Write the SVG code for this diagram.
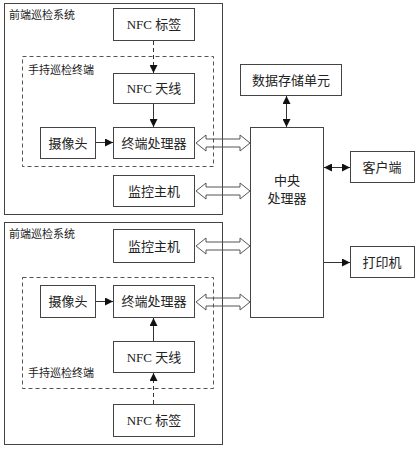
<svg xmlns="http://www.w3.org/2000/svg" width="419" height="450" viewBox="0 0 419 450">
<style>
.box{fill:#fff;stroke:#444;stroke-width:1}
.frame{fill:none;stroke:#444;stroke-width:1}
.dash{fill:none;stroke:#555;stroke-width:1;stroke-dasharray:4 3}
.t{font-family:"Liberation Serif","Noto Sans CJK SC",serif;font-size:13px;fill:#222;text-anchor:middle;dominant-baseline:central}
.lbl{font-family:"Noto Sans CJK SC",sans-serif;font-size:11px;fill:#222;dominant-baseline:central}
.ln{fill:none;stroke:#333;stroke-width:1}
.ld{fill:none;stroke:#333;stroke-width:1;stroke-dasharray:4 3}
.blk{fill:none;stroke:#555;stroke-width:1}
</style>
<defs>
<marker id="ah" viewBox="0 0 10 10" refX="10" refY="5" markerWidth="8" markerHeight="8" markerUnits="userSpaceOnUse" orient="auto-start-reverse">
<path d="M0,0 L10,5 L0,10 Z" fill="#111"/>
</marker>
</defs>

<g id="frontend1">
<rect class="frame" x="4.5" y="3.5" width="218" height="211"/>
<text class="lbl" x="9" y="14">前端巡检系统</text>
</g>
<g id="handheld1">
<rect class="dash" x="22.5" y="56.5" width="191" height="110"/>
<text class="lbl" x="28" y="69">手持巡检终端</text>
</g>
<g id="nfc-tag1"><rect class="box" x="113.5" y="8.5" width="81" height="32"/><text class="t" x="154" y="24.5">NFC 标签</text></g>
<g id="nfc-ant1"><rect class="box" x="113.5" y="73.5" width="81" height="30"/><text class="t" x="154" y="88.5">NFC 天线</text></g>
<g id="camera1"><rect class="box" x="40.5" y="127.5" width="55" height="31"/><text class="t" x="68" y="143">摄像头</text></g>
<g id="term1"><rect class="box" x="113.5" y="127.5" width="81" height="31"/><text class="t" x="154" y="143">终端处理器</text></g>
<g id="monitor1"><rect class="box" x="113.5" y="175.5" width="81" height="31"/><text class="t" x="154" y="191">监控主机</text></g>

<g id="frontend2">
<rect class="frame" x="4.5" y="222.5" width="218" height="222"/>
<text class="lbl" x="9" y="233">前端巡检系统</text>
</g>
<g id="handheld2">
<rect class="dash" x="22.5" y="277.5" width="191" height="111"/>
<text class="lbl" x="28" y="372">手持巡检终端</text>
</g>
<g id="monitor2"><rect class="box" x="113.5" y="229.5" width="81" height="33"/><text class="t" x="154" y="246">监控主机</text></g>
<g id="camera2"><rect class="box" x="40.5" y="285.5" width="55" height="32"/><text class="t" x="68" y="301.5">摄像头</text></g>
<g id="term2"><rect class="box" x="113.5" y="285.5" width="81" height="32"/><text class="t" x="154" y="301.5">终端处理器</text></g>
<g id="nfc-ant2"><rect class="box" x="113.5" y="341.5" width="81" height="31"/><text class="t" x="154" y="357">NFC 天线</text></g>
<g id="nfc-tag2"><rect class="box" x="113.5" y="404.5" width="81" height="32"/><text class="t" x="154" y="420.5">NFC 标签</text></g>

<g id="storage"><rect class="box" x="240.5" y="64.5" width="101" height="31"/><text class="t" x="291" y="80">数据存储单元</text></g>
<g id="cpu"><rect class="box" x="250.5" y="127.5" width="73" height="190"/><text class="t" x="287" y="180">中央</text><text class="t" x="287" y="198">处理器</text></g>
<g id="client"><rect class="box" x="350.5" y="151.5" width="64" height="31"/><text class="t" x="382" y="167">客户端</text></g>
<g id="printer"><rect class="box" x="350.5" y="246.5" width="64" height="31"/><text class="t" x="382" y="262">打印机</text></g>

<g id="connectors">
<line class="ld" x1="153.5" y1="41" x2="153.5" y2="73" marker-end="url(#ah)"/>
<line class="ln" x1="153.5" y1="104" x2="153.5" y2="127" marker-end="url(#ah)"/>
<line class="ln" x1="96" y1="142.5" x2="113" y2="142.5" marker-end="url(#ah)"/>
<line class="ld" x1="153.5" y1="404" x2="153.5" y2="373" marker-end="url(#ah)"/>
<line class="ln" x1="153.5" y1="341" x2="153.5" y2="318" marker-end="url(#ah)"/>
<line class="ln" x1="96" y1="301.5" x2="113" y2="301.5" marker-end="url(#ah)"/>
<line class="ln" x1="286.5" y1="96" x2="286.5" y2="127" marker-start="url(#ah)" marker-end="url(#ah)"/>
<line class="ln" x1="324" y1="167.5" x2="350" y2="167.5" marker-start="url(#ah)" marker-end="url(#ah)"/>
<line class="ln" x1="324" y1="262.5" x2="350" y2="262.5" marker-end="url(#ah)"/>
<path class="blk" d="M196,143 L206,135 L206,139 L240,139 L240,135 L250,143 L240,151 L240,147 L206,147 L206,151 Z"/>
<path class="blk" d="M196,191 L206,183 L206,187 L240,187 L240,183 L250,191 L240,199 L240,195 L206,195 L206,199 Z"/>
<path class="blk" d="M196,246 L206,238 L206,242 L240,242 L240,238 L250,246 L240,254 L240,250 L206,250 L206,254 Z"/>
<path class="blk" d="M196,302 L206,294 L206,298 L240,298 L240,294 L250,302 L240,310 L240,306 L206,306 L206,310 Z"/>
</g>
</svg>
